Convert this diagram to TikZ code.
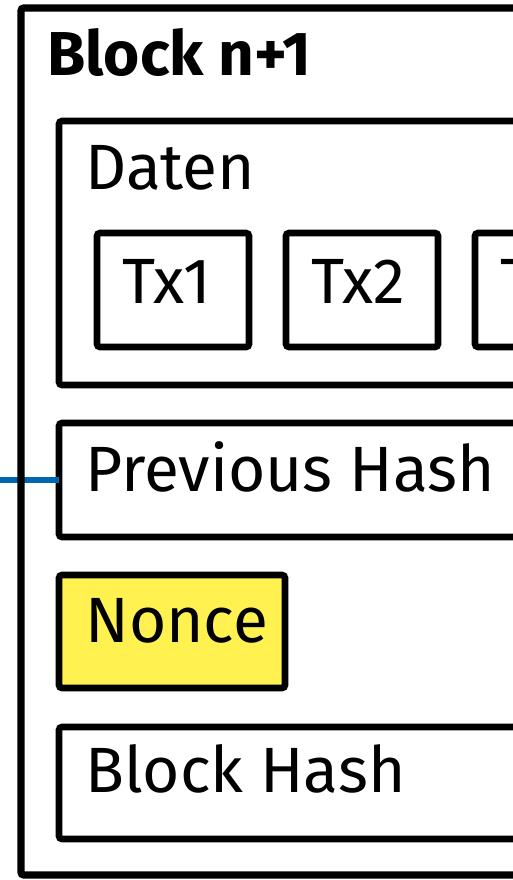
\documentclass[tikz,border=0pt]{standalone}
\usepackage{fontspec}
\setmainfont{Fira Sans}
\usepackage{xcolor}
\usepackage{tikz}

\definecolor{linkblue}{HTML}{0066B3}
\definecolor{nonceyellow}{HTML}{FFF250}

\tikzset{
  field/.style={draw, line width=3.3pt, rounded corners=1.5pt, anchor=north west, inner sep=0pt, outer sep=0pt},
  txbox/.style={field, minimum width=76pt, minimum height=57pt},
  fieldtext/.style={anchor=base west, inner sep=0pt, font=\fontsize{32}{32}\selectfont},
}

\begin{document}
\begin{tikzpicture}[x=0.5pt, y=-0.5pt]
				\useasboundingbox (0,0) rectangle (513,880);
				\clip (0,0) rectangle (513,880);

				% link to the block before
				\node[field, minimum width=300pt, minimum height=57pt] (prev) at (59,423) {};
				\coordinate (prevlink) at (-5,480);
				\draw[linkblue, line width=2.7pt] (prevlink) -- (prev.west |- prevlink);

				% the block itself
				\node[field, line width=3.7pt, minimum width=300pt, minimum height=433.5pt] (block) at (21,8) {};
				\node[fieldtext, font=\fontsize{31}{31}\selectfont\bfseries] (blocktitle) at (47,75) {Block n+1};

				% data with transactions
				\node[field, minimum width=300pt, minimum height=132pt] (daten) at (59,121) {};
				\node[fieldtext] (datentext) at (85,189) {Daten};
				\foreach \i/\xpos in {1/97, 2/286, 3/475} {
					\node[txbox] (tx\i) at (\xpos,233) {};
					\node[fieldtext] (tx\i text) at (\xpos+25,303) {Tx\i};
				}

				% header fields
				\node[fieldtext] (prevtext) at (85,491) {Previous Hash};
				\node[field, fill=nonceyellow, minimum width=113pt, minimum height=56.5pt] (nonce) at (59,575) {};
				\node[fieldtext] (noncetext) at (85,642) {Nonce};
				\node[field, minimum width=300pt, minimum height=56pt] (bhash) at (59,727) {};
				\node[fieldtext] (bhashtext) at (85,792) {Block Hash};

			\end{tikzpicture}
\end{document}
